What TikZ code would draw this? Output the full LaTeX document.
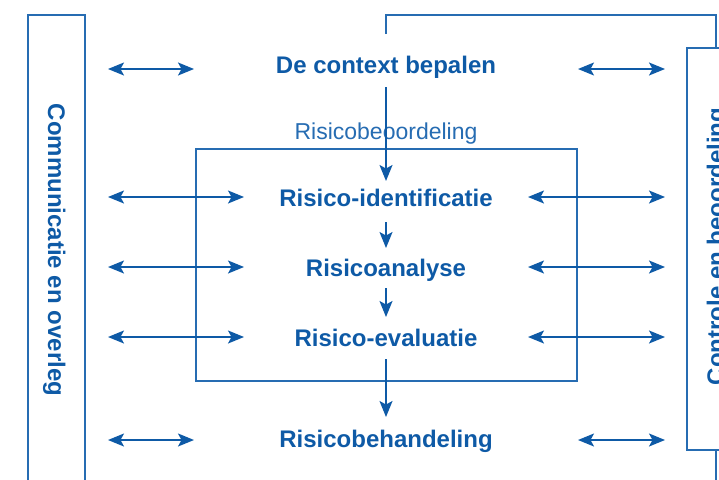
\documentclass[tikz,border=0pt]{standalone}
\usepackage{fontspec}
\setmainfont{Liberation Sans}
\usetikzlibrary{arrows.meta}
\definecolor{mblue}{RGB}{14,90,166}
\definecolor{lblue}{RGB}{38,108,178}
\tikzset{
  boxline/.style={draw=lblue, line width=1.5pt},
  stage/.style={text=mblue, font=\bfseries\fontsize{24}{28}\selectfont, anchor=base, inner sep=0pt},
  sidelabel/.style={text=mblue, font=\bfseries\fontsize{24}{28}\selectfont, anchor=base, inner sep=0pt},
  sublabel/.style={text=lblue, font=\fontsize{23}{27}\selectfont, anchor=base, inner sep=0pt},
  dbl/.style={draw=mblue, line width=1.6pt, {Stealth[length=16pt,width=13pt,inset=3.5pt]}-{Stealth[length=16pt,width=13pt,inset=3.5pt]}},
  arr/.style={draw=mblue, line width=1.6pt, -{Stealth[length=16pt,width=13pt,inset=3.5pt]}}
}
\begin{document}
\begin{tikzpicture}[x=1pt,y=-1pt]
\clip (0,0) rectangle (719,479);
\useasboundingbox (0,0) rectangle (719,479);
% left box
\draw[boxline] (28,500) -- (28,15) -- (85,15) -- (85,500);
\node[sidelabel, rotate=-90] (comm) at (48,250) {Communicatie en overleg};
% feedback loop line
\coordinate (loopA) at (386,34);
\coordinate (loopB) at (386,15);
\coordinate (loopC) at (716,15);
\coordinate (loopD) at (716,500);
\draw[boxline] (loopA) -- (loopB) -- (loopC) -- (loopD);
% right box
\draw[boxline, fill=white] (687,48) rectangle (760,450);
\node[sidelabel, rotate=90] (ctrl) at (724,246.5) {Controle en beoordeling};
% risk assessment box
\node[sublabel] (rb) at (386,139) {Risicobeoordeling};
\draw[boxline] (196,149) rectangle (577,381);
% stages
\node[stage] (ctx) at (386,73) {De context bepalen};
\node[stage] (id) at (386,206) {Risico-identificatie};
\node[stage] (an) at (386,276) {Risicoanalyse};
\node[stage] (ev) at (386,346) {Risico-evaluatie};
\node[stage] (beh) at (386,447) {Risicobehandeling};
% horizontal double arrows
\foreach \n/\y/\a/\b in {ctx/69/194/578, id/197/244/528, an/267/244/528, ev/337/244/528, beh/440/194/578} {
  \coordinate (\n-l1) at (108,\y);
  \coordinate (\n-l2) at (\a,\y);
  \coordinate (\n-r1) at (\b,\y);
  \coordinate (\n-r2) at (665,\y);
  \draw[dbl] (\n-l1) -- (\n-l2);
  \draw[dbl] (\n-r1) -- (\n-r2);
}
% vertical arrows
\foreach \n/\s/\e in {v1/87/181, v2/222/248, v3/288/317, v4/359/417} {
  \coordinate (\n-s) at (386,\s);
  \coordinate (\n-e) at (386,\e);
  \draw[arr] (\n-s) -- (\n-e);
}
\end{tikzpicture}
\end{document}
